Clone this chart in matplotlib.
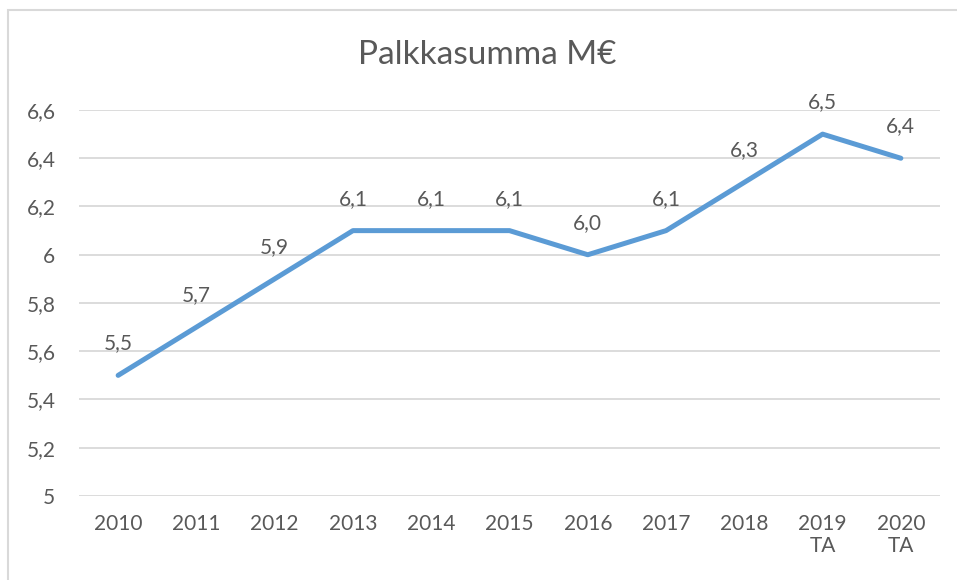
import matplotlib
matplotlib.use("Agg")
import matplotlib.pyplot as plt
from matplotlib.patches import Rectangle

years = ["2010", "2011", "2012", "2013", "2014", "2015", "2016", "2017", "2018", "2019\nTA", "2020\nTA"]
values = [5.5, 5.7, 5.9, 6.1, 6.1, 6.1, 6.0, 6.1, 6.3, 6.5, 6.4]
yticks = [5.0, 5.2, 5.4, 5.6, 5.8, 6.0, 6.2, 6.4, 6.6]
ytick_labels = ["5", "5,2", "5,4", "5,6", "5,8", "6", "6,2", "6,4", "6,6"]

plt.rcParams['font.family'] = ['Lato', 'DejaVu Sans']
text_color = "#595959"

fig = plt.figure(figsize=(9.57, 5.8), dpi=100)
fig.patches.append(Rectangle((8/957, -0.1), 1.2, (1 - 10/580) + 0.1, transform=fig.transFigure,
                             fill=False, edgecolor="#D9D9D9", linewidth=1.5))
ax = fig.add_axes([79/957, 1 - 496/580, (940 - 79)/957, (496 - 110)/580])

x = list(range(len(years)))
ax.plot(x, values, color="#5B9BD5", linewidth=3.6, solid_capstyle="round", solid_joinstyle="round", zorder=3)
for xi, v in zip(x, values):
    ax.annotate(f"{v:.1f}".replace(".", ","), (xi, v), xytext=(0, 23), textcoords="offset points",
                ha="center", va="center", fontsize=15, color=text_color)

ax.set_xlim(-0.5, len(years) - 0.5)
ax.set_ylim(5.0, 6.6)
ax.set_yticks(yticks)
ax.set_yticklabels(ytick_labels)
ax.set_xticks(x)
ax.set_xticklabels(years, linespacing=1.1)
ax.grid(axis="y", color="#D9D9D9", linewidth=1.3)
ax.set_axisbelow(True)
for s in ax.spines.values():
    s.set_visible(False)
ax.tick_params(axis="both", length=0, labelsize=15, colors=text_color)
ax.tick_params(axis="y", pad=17)
ax.tick_params(axis="x", pad=13)
for lbl in ax.get_yticklabels():
    lbl.set_horizontalalignment("right")

fig.text(487/957, 1 - 55/580, "Palkkasumma M€", ha="center", va="center", fontsize=24, color=text_color)

fig.savefig("out.png", dpi=100)
